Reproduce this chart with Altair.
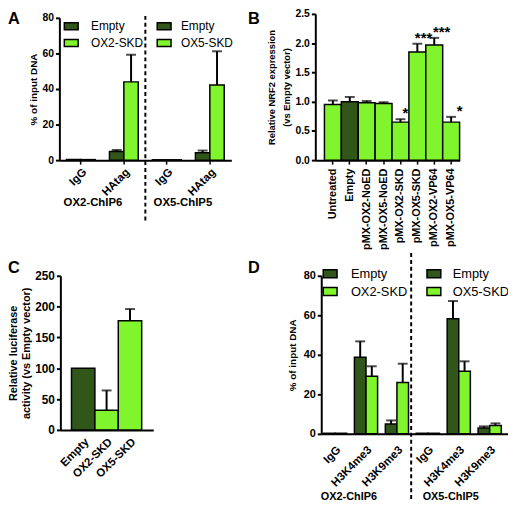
import altair as alt
import pandas as pd

# ---------------- data ----------------
a_group = ["OX2-ChIP6", "OX2-ChIP6", "OX2-ChIP6", "OX2-ChIP6",
           "OX5-ChIP5", "OX5-ChIP5", "OX5-ChIP5", "OX5-ChIP5"]
a_target = ["IgG", "IgG", "HAtag", "HAtag", "IgG", "IgG", "HAtag", "HAtag"]
a_series = ["Empty", "OX2-SKD", "Empty", "OX2-SKD", "Empty", "OX5-SKD", "Empty", "OX5-SKD"]
a_value = [0.3, 0.3, 4.8, 44.0, 0.2, 0.2, 4.1, 42.3]
a_error = [0.0, 0.0, 0.9, 15.3, 0.0, 0.0, 1.3, 18.9]

b_cat = ["Untreated", "Empty", "pMX-OX2-NoED", "pMX-OX5-NoED",
         "pMX-OX2-SKD", "pMX-OX5-SKD", "pMX-OX2-VP64", "pMX-OX5-VP64"]
b_value = [0.95, 1.00, 0.98, 0.97, 0.65, 1.85, 1.97, 0.65]
b_error = [0.07, 0.08, 0.03, 0.02, 0.05, 0.14, 0.12, 0.09]
b_sig = ["", "", "", "", "*", "***", "***", "*"]

c_cat = ["Empty", "OX2-SKD", "OX5-SKD"]
c_value = [100, 32, 177]
c_error = [0, 32, 19]

d_group = ["OX2-ChIP6"] * 6 + ["OX5-ChIP5"] * 6
d_target = ["IgG", "IgG", "H3K4me3", "H3K4me3", "H3K9me3", "H3K9me3"] * 2
d_series = ["Empty", "OX2-SKD"] * 3 + ["Empty", "OX5-SKD"] * 3
d_value = [0.3, 0.3, 38.8, 29.2, 5.0, 26.0, 0.3, 0.3, 58.3, 31.7, 3.0, 4.2]
d_error = [0.0, 0.0, 8.0, 5.0, 1.8, 9.5, 0.0, 0.0, 8.9, 5.0, 0.8, 1.1]

# ---------------- layout / style ----------------
OX, OY = 8, 8
W, H = 506, 495
FONT = "Liberation Sans"
GREEN = "#80f52d"
DARK = "#30561a"


def X(p):
    return p - OX


def Y(p):
    return p - OY


def yaxis(values, title, axis_x, title_pad, label_size=10.5, title_size=10, fmt=None, lh=None):
    kw = dict(orient="left", offset=-X(axis_x), values=values, title=title, grid=False,
              domainColor="black", domainWidth=2, tickColor="black", tickWidth=2, tickSize=4,
              labelFont=FONT, labelFontWeight="bold", labelFontSize=label_size, labelColor="black",
              labelPadding=2, titleFont=FONT, titleFontWeight="bold", titleFontSize=title_size,
              titleColor="black", titlePadding=title_pad)
    if fmt:
        kw["format"] = fmt
    if lh:
        kw["titleLineHeight"] = lh
    return alt.Axis(**kw)


def xaxis(axis_y, angle, size, pad, expr=None, baseline="top", ticks=False):
    kw = dict(orient="bottom", offset=Y(axis_y) - H, title=None, ticks=ticks, grid=False,
              domainColor="black", domainWidth=2, labelAngle=angle, labelAlign="right",
              labelBaseline=baseline, labelFont=FONT, labelFontWeight="bold", labelFontSize=size,
              labelColor="black", labelOverlap=False, labelPadding=pad)
    if ticks:
        kw.update(tickColor="black", tickWidth=1.5, tickSize=4)
    if expr:
        kw["labelExpr"] = expr
    return alt.Axis(**kw)


def fill_for(field):
    return alt.condition(alt.datum[field] == "Empty", alt.value(DARK), alt.value(GREEN))


def grouped_units(df, xdomain, xr, yr, ydom, yvals, ytitle, axis_x, title_pad, label_size,
                  label_pad, pin, pout, align, yl_size, ticks):
    xs = alt.Scale(domain=xdomain, range=[X(xr[0]), X(xr[1])], paddingInner=pin,
                   paddingOuter=pout, align=align)
    ys = alt.Scale(domain=ydom, range=[Y(yr[0]), Y(yr[1])], nice=False, zero=True)
    os_ = alt.Scale(domain=["Empty", "SKD"], paddingInner=0, paddingOuter=0)
    base = alt.Chart(df).transform_calculate(
        cat="datum.group + '|' + datum.target",
        slot="datum.series == 'Empty' ? 'Empty' : 'SKD'",
        top="datum.value + datum.err",
    )
    bars = base.mark_bar(stroke="black", strokeWidth=1.5).encode(
        x=alt.X("cat:N", scale=xs, axis=xaxis(yr[0], -45, label_size, label_pad,
                                             "split(datum.label, '|')[1]", ticks=ticks)),
        xOffset=alt.XOffset("slot:N", scale=os_),
        y=alt.Y("value:Q", scale=ys, axis=yaxis(yvals, ytitle, axis_x, title_pad, yl_size)),
        fill=fill_for("series"),
    )
    eb = base.transform_filter("datum.err > 0")
    rules = eb.mark_rule(color="black", strokeWidth=2).encode(
        x=alt.X("cat:N", scale=xs, axis=None),
        xOffset=alt.XOffset("slot:N", scale=os_),
        y=alt.Y("value:Q", scale=ys, axis=None),
        y2="top:Q",
    )
    caps = eb.mark_tick(color="black", thickness=2, size=10).encode(
        x=alt.X("cat:N", scale=xs, axis=None),
        xOffset=alt.XOffset("slot:N", scale=os_),
        y=alt.Y("top:Q", scale=ys, axis=None),
    )
    return [bars, rules, caps]


def simple_units(df, xr, yr, ydom, yvals, ytitle, axis_x, title_pad, angle, label_size,
                 label_pad, pout, align, yl_size=10.5, title_size=10, fmt=None, lh=None,
                 baseline="top", stars=False, ticks=False):
    xs = alt.Scale(domain=list(df["cat"]), range=[X(xr[0]), X(xr[1])], paddingInner=0,
                   paddingOuter=pout, align=align)
    ys = alt.Scale(domain=ydom, range=[Y(yr[0]), Y(yr[1])], nice=False, zero=True)
    base = alt.Chart(df).transform_calculate(top="datum.value + datum.err")
    bars = base.mark_bar(stroke="black", strokeWidth=1.5).encode(
        x=alt.X("cat:N", scale=xs, axis=xaxis(yr[0], angle, label_size, label_pad,
                                             baseline=baseline, ticks=ticks)),
        y=alt.Y("value:Q", scale=ys, axis=yaxis(yvals, ytitle, axis_x, title_pad, yl_size,
                                                title_size, fmt, lh)),
        fill=fill_for("cat"),
    )
    eb = base.transform_filter("datum.err > 0")
    rules = eb.mark_rule(color="black", strokeWidth=2).encode(
        x=alt.X("cat:N", scale=xs, axis=None),
        y=alt.Y("value:Q", scale=ys, axis=None),
        y2="top:Q",
    )
    caps = eb.mark_tick(color="black", thickness=2, size=10).encode(
        x=alt.X("cat:N", scale=xs, axis=None),
        y=alt.Y("top:Q", scale=ys, axis=None),
    )
    units = [bars, rules, caps]
    if stars:
        st = base.transform_filter("datum.sig != ''").mark_text(
            font=FONT, fontWeight="bold", fontSize=15, baseline="alphabetic", dy=-1, color="black"
        ).encode(
            x=alt.X("cat:N", scale=xs, axis=None),
            y=alt.Y("top:Q", scale=ys, axis=None),
            text="sig:N",
        )
        units.append(st)
    return units


# ---------------- panels ----------------
dfa = pd.DataFrame({"group": a_group, "target": a_target, "series": a_series,
                    "value": a_value, "err": a_error})
a_dom = []
for g, t in zip(a_group, a_target):
    k = g + "|" + t
    if k not in a_dom:
        a_dom.append(k)
units_a = grouped_units(dfa, a_dom, (60, 234), (159, 15), [0, 80], [0, 20, 40, 60, 80],
                        "% of input DNA", 60, 3, 11.5, 2, 0.33, 0.165, 0.5, 10.5, True)

dfb = pd.DataFrame({"cat": b_cat, "value": b_value, "err": b_error, "sig": b_sig})
units_b = simple_units(dfb, (319, 465), (159, 11), [0, 2.5], [0, 0.5, 1.0, 1.5, 2.0, 2.5],
                       ["Relative NRF2 expression", "(vs Empty vector)"], 319, 4, -90, 11, 4,
                       0.27, 1, title_size=9.5, fmt=".1f", lh=15, baseline="middle", stars=True,
                       ticks=True)

dfc = pd.DataFrame({"cat": c_cat, "value": c_value, "err": c_error})
units_c = simple_units(dfc, (61, 155), (432, 276), [0, 250], [0, 50, 100, 150, 200, 250],
                       ["Relative luciferase", "activity (vs Empty vector)"], 61, 3, -45, 11.5, 6,
                       0.485, 0.49, yl_size=12, title_size=11, lh=13)

dfd = pd.DataFrame({"group": d_group, "target": d_target, "series": d_series,
                    "value": d_value, "err": d_error})
d_dom = []
for g, t in zip(d_group, d_target):
    k = g + "|" + t
    if k not in d_dom:
        d_dom.append(k)
units_d = grouped_units(dfd, d_dom, (325, 514), (436, 276), [0, 80], [0, 20, 40, 60, 80],
                        "% of input DNA", 325, 6, 11.5, 10, 0.25, 0.145, 0.25, 11, False)

# ---------------- decorations ----------------
one = pd.DataFrame({"k": [0]})


def text(s, x, y, size, weight="bold", align="left", baseline="middle"):
    return alt.Chart(one).mark_text(text=s, font=FONT, fontSize=size, fontWeight=weight,
                                    align=align, baseline=baseline, color="black").encode(
        x=alt.value(X(x)), y=alt.value(Y(y)))


def divider(x, y1, y2):
    return alt.Chart(one).mark_rule(color="black", strokeWidth=2, strokeDash=[4, 3]).encode(
        x=alt.value(X(x)), y=alt.value(Y(y1)), y2=alt.value(Y(y2)))


def swatch(x1, y1, x2, y2, color):
    return alt.Chart(one).mark_rect(fill=color, stroke="black", strokeWidth=1.5).encode(
        x=alt.value(X(x1)), x2=alt.value(X(x2)), y=alt.value(Y(y1)), y2=alt.value(Y(y2)))


deco = [
    text("A", 8, 21, 16.5, baseline="alphabetic"),
    text("B", 251, 21, 16.5, baseline="alphabetic"),
    text("C", 8, 273, 16.5, baseline="alphabetic"),
    text("D", 251, 273, 16.5, baseline="alphabetic"),
    divider(147, 13, 222),
    divider(416, 253, 503),
    swatch(65, 20, 79, 27, DARK), text("Empty", 92, 23.5, 12, "normal"),
    swatch(65, 37, 79, 44, GREEN), text("OX2-SKD", 92, 40.5, 12, "normal"),
    swatch(159, 20, 173, 27, DARK), text("Empty", 183, 23.5, 12, "normal"),
    swatch(159, 37, 173, 44, GREEN), text("OX5-SKD", 183, 40.5, 12, "normal"),
    swatch(327, 270, 341, 278, DARK), text("Empty", 355, 274, 13, "normal"),
    swatch(327, 288, 341, 296, GREEN), text("OX2-SKD", 355, 292, 13, "normal"),
    swatch(432, 270, 446, 278, DARK), text("Empty", 458, 274, 13, "normal"),
    swatch(432, 288, 446, 296, GREEN), text("OX5-SKD", 458, 292, 13, "normal"),
    text("OX2-ChIP6", 94, 202, 11.5, align="center"),
    text("OX5-ChIP5", 185, 202, 11.5, align="center"),
    text("OX2-ChIP6", 353, 500, 11, align="center"),
    text("OX5-ChIP5", 456, 500, 11, align="center"),
]

chart = alt.layer(*units_a, *units_b, *units_c, *units_d, *deco).resolve_scale(
    x="independent", y="independent", xOffset="independent"
).properties(
    width=W, height=H,
    padding=0,
    autosize=alt.AutoSizeParams(type="none"),
).configure_view(strokeWidth=0)

chart.save("out.html", embed_options={"renderer": "svg", "actions": False})
